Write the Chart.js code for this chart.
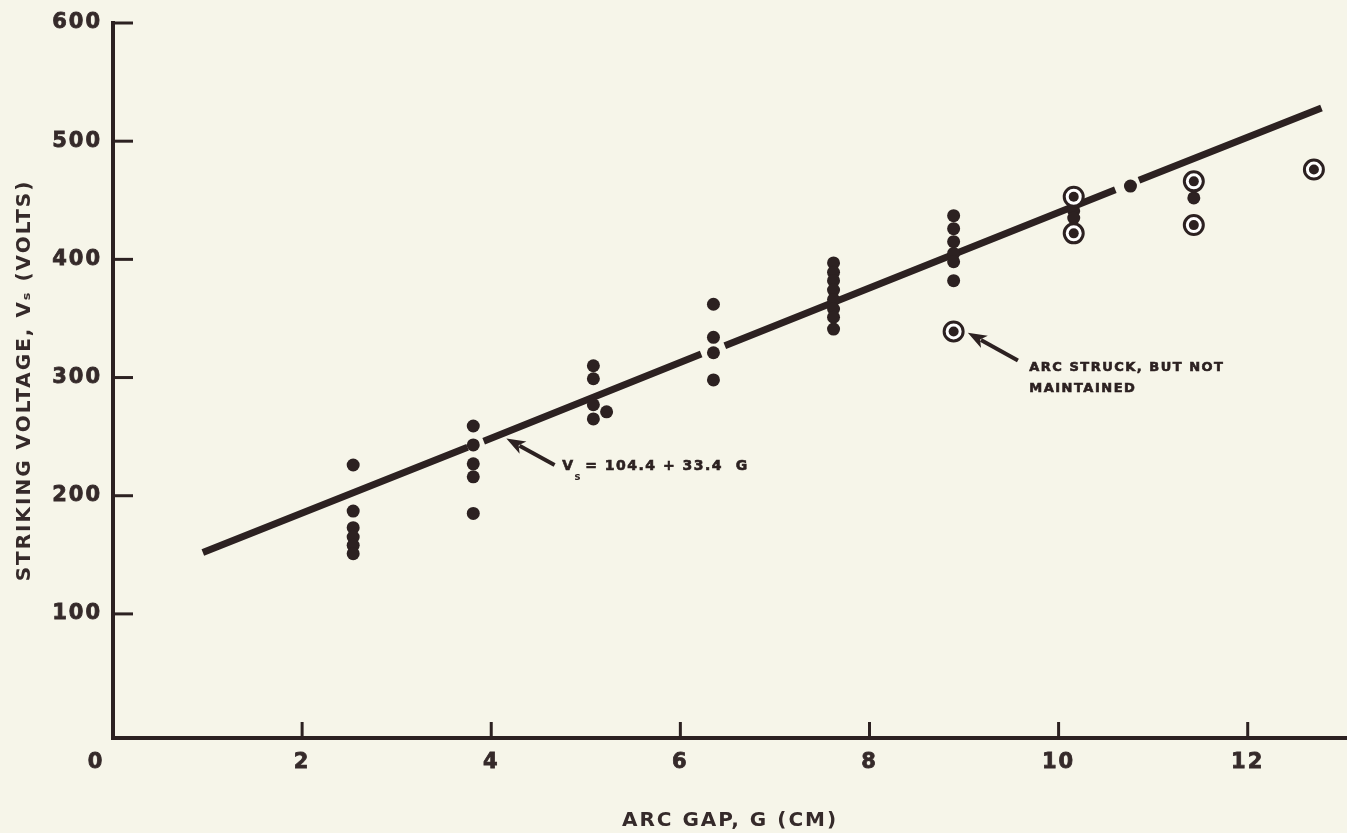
<!DOCTYPE html>
<html>
<head>
<meta charset="utf-8">
<script src="https://cdn.jsdelivr.net/npm/chart.js@4.4.0/dist/chart.umd.min.js"></script>
<style>
  html, body { margin: 0; padding: 0; background: #f6f5e9; }
  canvas { display: block; }
</style>
</head>
<body>
<canvas id="c" width="1347" height="833"></canvas>
<script>
// ---------------- data ----------------
const maintainedGap = [
  2.54, 2.54, 2.54, 2.54, 2.54, 2.54,
  3.81, 3.81, 3.81, 3.81, 3.81,
  5.08, 5.08, 5.08, 5.08, 5.22,
  6.35, 6.35, 6.35, 6.35,
  7.62, 7.62, 7.62, 7.62, 7.62, 7.62, 7.62, 7.62,
  8.89, 8.89, 8.89, 8.89, 8.89, 8.89,
  10.16, 10.16, 10.76, 11.43
];
const maintainedVolts = [
  226, 187, 173, 165, 158, 151,
  259, 243, 227, 216, 185,
  310, 299, 277, 265, 271,
  362, 334, 321, 298,
  397, 389, 382, 374, 366, 358, 351, 341,
  437, 426, 415, 405, 398, 382,
  441, 435, 462, 452
];
const notMaintainedGap   = [8.89, 10.16, 10.16, 11.43, 11.43, 12.70];
const notMaintainedVolts = [339, 453, 422, 466, 429, 476];

// fitted line V = 104.4 + 33.4 G as drawn (with the draftsman's breaks)
const fitGap   = [0.95, 3.75, 3.83, 3.92, 6.22, 6.35, 6.47, 10.60, 10.72, 10.85, 12.78];
const fitVolts = [152, 241, null, 246, 320, null, 327, 459, null, 467, 528];

const xTickValues = [0, 2, 4, 6, 8, 10, 12];
const yTickValues = [100, 200, 300, 400, 500, 600];

const xTitle = 'ARC GAP, G (CM)';
const yTitle = 'STRIKING VOLTAGE, V\u209B (VOLTS)';
const fitNote = ['V', 's', '= 104.4 + 33.4  G'];
const outlierNote = ['ARC STRUCK, BUT NOT', 'MAINTAINED'];

// ---------------- styling ----------------
const INK = '#2c2121';
const TEXT = '#352a2a';
const FONT = "'DejaVu Sans', 'Liberation Sans', sans-serif";

const pts = (g, v) => g.map((x, i) => ({ x: x, y: v[i] }));

function drawArrow(ctx, x1, y1, x2, y2) {
  const a = Math.atan2(y2 - y1, x2 - x1);
  const head = 19, hw = 7;
  const bx = x2 - head * Math.cos(a), by = y2 - head * Math.sin(a);
  ctx.lineWidth = 4;
  ctx.beginPath(); ctx.moveTo(x1, y1); ctx.lineTo(bx + 4 * Math.cos(a), by + 4 * Math.sin(a)); ctx.stroke();
  const nx = x2 - (head - 5) * Math.cos(a), ny = y2 - (head - 5) * Math.sin(a);
  ctx.beginPath();
  ctx.moveTo(x2, y2);
  ctx.lineTo(bx + hw * Math.sin(a), by - hw * Math.cos(a));
  ctx.lineTo(nx, ny);
  ctx.lineTo(bx - hw * Math.sin(a), by + hw * Math.cos(a));
  ctx.closePath();
  ctx.fill();
}

const annotations = {
  fit: { tail: [4.67, 226], tip: [4.16, 248.5], text: [4.75, 225] },
  outlier: { tail: [9.57, 314.5], tip: [9.04, 338], line1: [9.69, 308], line2: [9.69, 291] }
};

const drawPlugin = {
  id: 'paperChart',
  beforeDraw(chart) { chart.ctx.letterSpacing = '2px'; },
  afterDraw(chart) {
    const { ctx, scales: { x, y } } = chart;
    ctx.save();
    ctx.strokeStyle = INK; ctx.fillStyle = INK; ctx.lineCap = 'butt';
    // inward tick marks
    ctx.lineWidth = 3;
    yTickValues.forEach(v => {
      const py = y.getPixelForValue(v);
      ctx.beginPath(); ctx.moveTo(x.left, py); ctx.lineTo(x.left + 20, py); ctx.stroke();
    });
    xTickValues.filter(v => v > 0).forEach(v => {
      const px = x.getPixelForValue(v);
      ctx.beginPath(); ctx.moveTo(px, y.bottom); ctx.lineTo(px, y.bottom - 16); ctx.stroke();
    });
    // origin label
    ctx.fillStyle = TEXT;
    ctx.strokeStyle = TEXT;
    ctx.lineWidth = 0.8;
    ctx.font = 'bold 21px ' + FONT;
    ctx.letterSpacing = '2px';
    ctx.textAlign = 'center'; ctx.textBaseline = 'middle';
    const ox = x.getPixelForValue(0) - 17, oy = y.bottom + 25;
    ctx.fillText('0', ox, oy);
    ctx.strokeText('0', ox, oy);

    // fit-line annotation
    ctx.fillStyle = INK;
    ctx.strokeStyle = INK;
    const f = annotations.fit;
    drawArrow(ctx, x.getPixelForValue(f.tail[0]), y.getPixelForValue(f.tail[1]),
                   x.getPixelForValue(f.tip[0]), y.getPixelForValue(f.tip[1]));
    const tx = x.getPixelForValue(f.text[0]), ty = y.getPixelForValue(f.text[1]);
    ctx.textAlign = 'left';
    ctx.letterSpacing = '1.5px';
    ctx.lineWidth = 0.6;
    ctx.font = 'bold 14px ' + FONT;
    ctx.fillText(fitNote[0], tx, ty); ctx.strokeText(fitNote[0], tx, ty);
    const vw = ctx.measureText(fitNote[0]).width;
    ctx.font = 'bold 10px ' + FONT;
    ctx.fillText(fitNote[1], tx + vw, ty + 11);
    ctx.font = 'bold 14px ' + FONT;
    ctx.fillText(fitNote[2], tx + 23, ty); ctx.strokeText(fitNote[2], tx + 23, ty);

    // outlier annotation
    const o = annotations.outlier;
    drawArrow(ctx, x.getPixelForValue(o.tail[0]), y.getPixelForValue(o.tail[1]),
                   x.getPixelForValue(o.tip[0]), y.getPixelForValue(o.tip[1]));
    ctx.font = 'bold 13px ' + FONT;
    ctx.letterSpacing = '1.5px';
    ctx.lineWidth = 0.6;
    const l1x = x.getPixelForValue(o.line1[0]), l1y = y.getPixelForValue(o.line1[1]);
    const l2x = x.getPixelForValue(o.line2[0]), l2y = y.getPixelForValue(o.line2[1]);
    ctx.fillText(outlierNote[0], l1x, l1y); ctx.strokeText(outlierNote[0], l1x, l1y);
    ctx.fillText(outlierNote[1], l2x, l2y); ctx.strokeText(outlierNote[1], l2x, l2y);
    ctx.restore();
    ctx.letterSpacing = '0px';
  }
};

new Chart(document.getElementById('c'), {
  type: 'scatter',
  data: {
    datasets: [
      {
        label: 'fit', data: pts(fitGap, fitVolts), showLine: true, spanGaps: false,
        borderColor: INK, borderWidth: 7, borderCapStyle: 'butt', pointRadius: 0, order: 4
      },
      {
        label: 'maintained', data: pts(maintainedGap, maintainedVolts),
        pointRadius: 6.5, pointBackgroundColor: INK, pointBorderWidth: 0, order: 3
      },
      {
        label: 'not maintained ring', data: pts(notMaintainedGap, notMaintainedVolts),
        pointRadius: 9.5, pointBackgroundColor: '#ffffff', pointBorderColor: INK, pointBorderWidth: 3, order: 2
      },
      {
        label: 'not maintained dot', data: pts(notMaintainedGap, notMaintainedVolts),
        pointRadius: 5, pointBackgroundColor: INK, pointBorderWidth: 0, order: 1
      }
    ]
  },
  options: {
    responsive: false,
    animation: false,
    devicePixelRatio: 1,
    layout: { autoPadding: false, padding: { top: 23, right: 0, bottom: 0, left: 0 } },
    plugins: { legend: { display: false }, tooltip: { enabled: false } },
    events: [],
    scales: {
      x: {
        type: 'linear', min: 0, max: 13.05,
        afterFit: s => { s.height = 95; s.paddingLeft = 0; s.paddingRight = 0; },
        afterBuildTicks: s => { s.ticks = xTickValues.map(v => ({ value: v })); },
        grid: { display: false, drawTicks: false },
        border: { display: true, color: INK, width: 4 },
        ticks: {
          color: TEXT, padding: 12, maxRotation: 0, autoSkip: false,
          textStrokeColor: TEXT, textStrokeWidth: 0.8,
          font: { family: FONT, size: 21, weight: 'bold' },
          callback: v => (v === 0 ? '' : String(v))
        },
        title: {
          display: true, text: xTitle, color: TEXT,
          font: { family: FONT, size: 20, weight: 'bold', lineHeight: 1.2 },
          padding: { top: 0, bottom: 0 }
        }
      },
      y: {
        type: 'linear', min: -5, max: 600,
        afterFit: s => { s.width = 113; s.paddingTop = 0; s.paddingBottom = 0; },
        afterBuildTicks: s => { s.ticks = yTickValues.map(v => ({ value: v })); },
        grid: { display: false, drawTicks: false },
        border: { display: true, color: INK, width: 4 },
        ticks: {
          color: TEXT, padding: 11, autoSkip: false,
          textStrokeColor: TEXT, textStrokeWidth: 0.8,
          font: { family: FONT, size: 21, weight: 'bold' }
        },
        title: {
          display: true, text: yTitle, color: TEXT,
          font: { family: FONT, size: 20, weight: 'bold', lineHeight: 1.2 },
          padding: { top: 13, bottom: 0 }
        }
      }
    }
  },
  plugins: [drawPlugin]
});
</script>
</body>
</html>
